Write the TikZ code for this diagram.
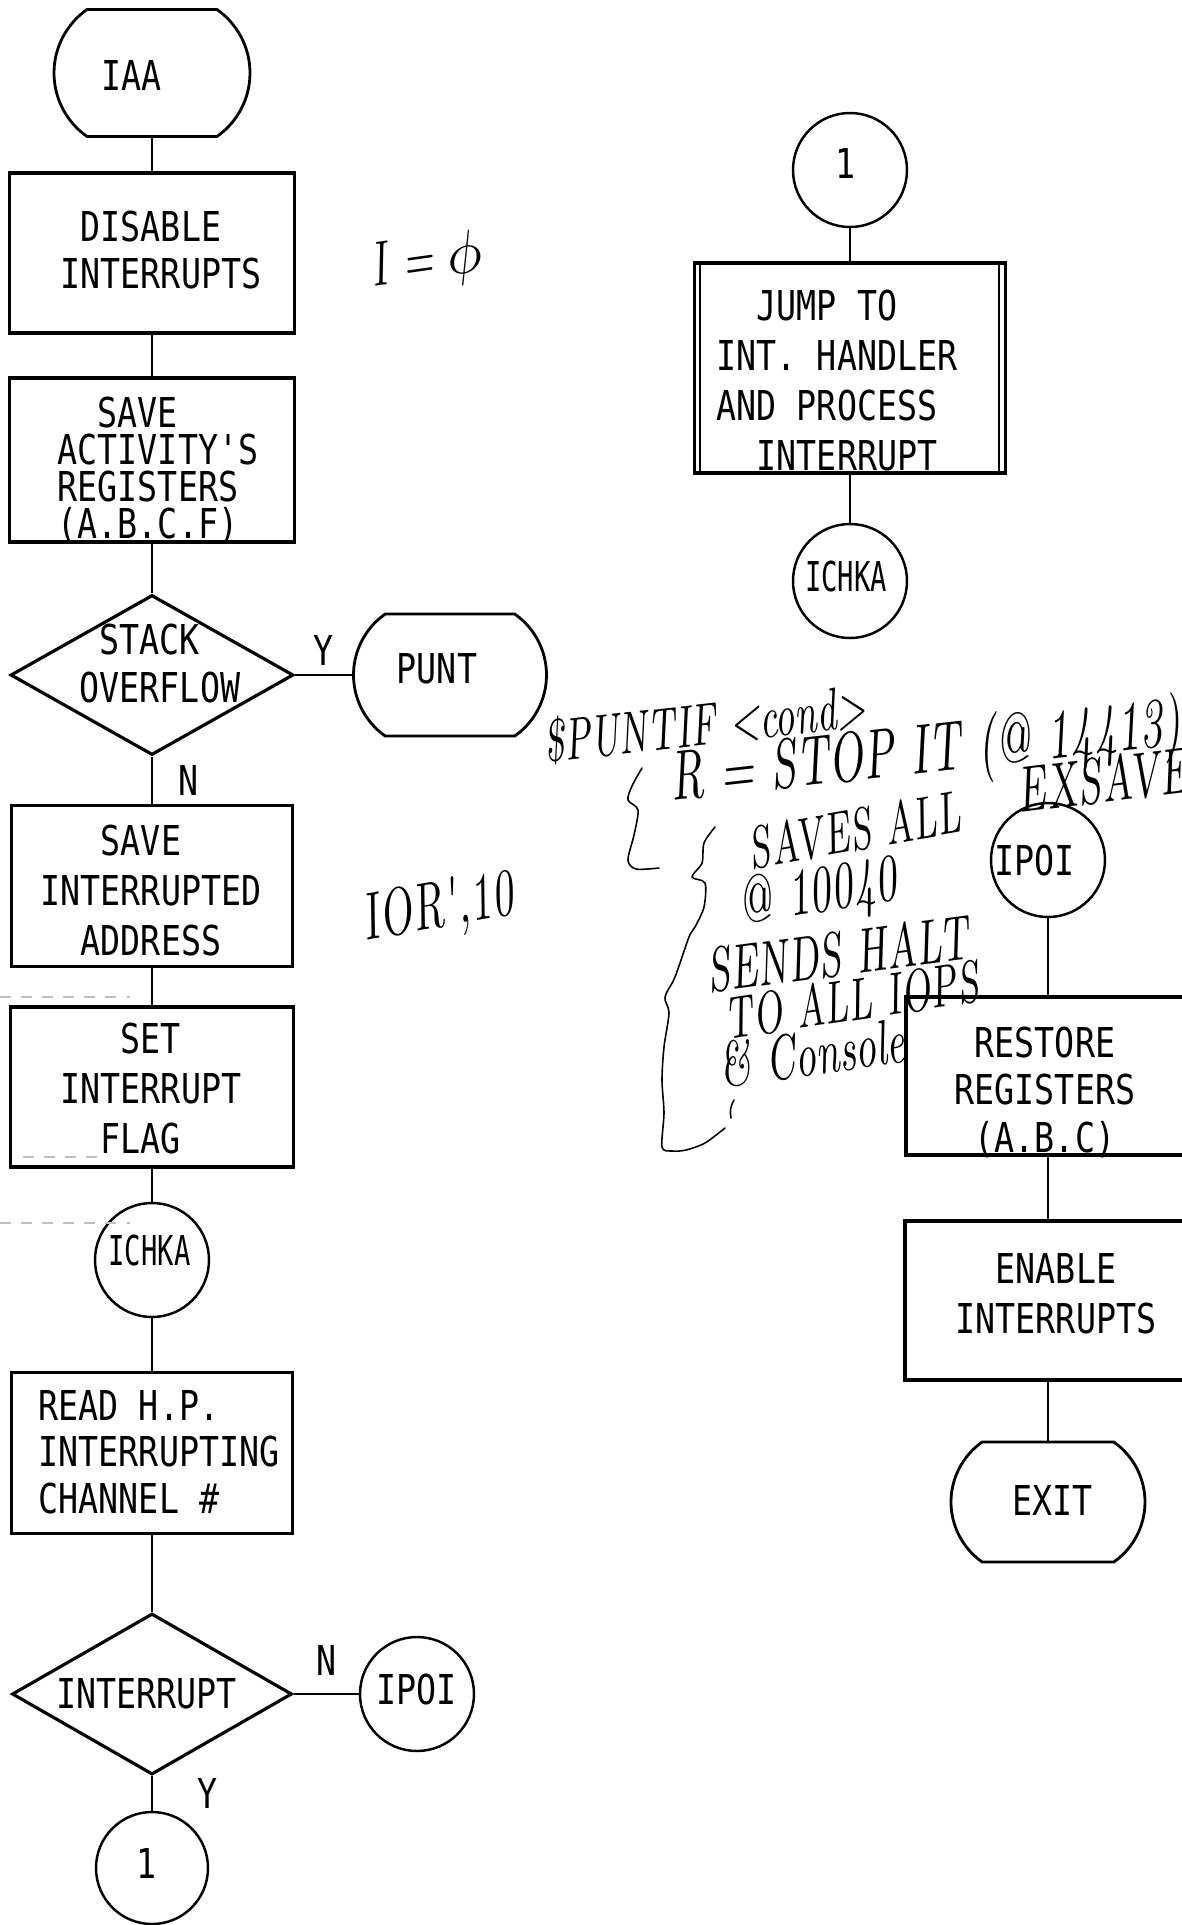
\documentclass[tikz,border=0pt]{standalone}
\usepackage{fontspec}
\usetikzlibrary{shapes.geometric}
\usetikzlibrary{shapes.misc}
\usetikzlibrary{positioning}
\newfontfamily\typer{DejaVu Sans Mono}[FakeStretch=0.81]
\newfontfamily\typerthin{DejaVu Sans Mono}[FakeStretch=0.66]
\newfontfamily\hand{lmroman10-italic.otf}[FakeStretch=0.65]

\newcommand{\typeline}[5][14.2] % line spacing in pt, name, x in mm, y in mm (last base line), text
{
	\node[typed, font=\typer\fontsize{11.7}{#1}\selectfont] (#2) at (#3,#4) {#5};
}
\newcommand{\typemid}[4] % name, x in mm (centre), y in mm (base line), text
{
	\node[typed, anchor=base, font=\typer\fontsize{11.7}{14}\selectfont] (#1) at (#2,#3) {#4};
}
\newcommand{\scrawl}[6] % name, x in mm, y in mm, size in pt, angle, text
{
	\node[inner sep=0pt, rotate=#5, font=\hand\fontsize{#4}{#4}\selectfont] (#1) at (#2,#3) {#6};
}

\begin{document}
\begin{tikzpicture}[x=1mm, y=-1mm,
	proc/.style={draw, rectangle, line width=0.9pt, inner sep=0pt},
	decision/.style={draw, diamond, line width=0.9pt, inner sep=0pt},
	terminal/.style={draw, rounded rectangle, rounded rectangle arc length=110, line width=0.8pt, inner sep=0pt},
	connector/.style={draw, circle, line width=0.7pt, inner sep=0pt, minimum size=11.4mm},
	flow/.style={line width=0.6pt},
	typed/.style={inner sep=0pt, anchor=base west, align=left},
	answer/.style={inner sep=0pt, font=\typer\fontsize{11.7}{14}\selectfont},
	scribble/.style={line width=0.45pt, line cap=round, line join=round},
	smudge/.style={gray!50, dashed, line width=0.3pt}]
	% sheet 118.2mm x 192.5mm, y runs down the sheet
	\useasboundingbox (0,0) rectangle (118.2,192.5);

	% main column
	\node[terminal, minimum width=19.6mm, minimum height=12.7mm] (iaa) at (15.2,7.3) {};
	\node[proc, minimum width=28.5mm, minimum height=16mm] (disable) at (15.2,25.3) {};
	\node[proc, minimum width=28.5mm, minimum height=16.4mm] (saveregs) at (15.2,46.0) {};
	\node[decision, minimum width=28.3mm, minimum height=16mm] (stack) at (15.2,67.5) {};
	\node[terminal, minimum width=19.3mm, minimum height=12.2mm] (punt) at (45.0,67.5) {};
	\node[proc, minimum width=28.1mm, minimum height=16.1mm] (saveaddr) at (15.2,88.6) {};
	\node[proc, minimum width=28.3mm, minimum height=16mm] (setflag) at (15.2,108.7) {};
	\node[connector] (ichkaA) at (15.2,126.0) {};
	\node[proc, minimum width=28.1mm, minimum height=16.1mm] (readhp) at (15.2,145.3) {};
	\node[decision, minimum width=28mm, minimum height=16.1mm] (intr) at (15.2,169.4) {};
	\node[connector] (ipoiA) at (41.7,169.4) {};
	\node[connector, minimum size=11.2mm] (oneA) at (15.2,186.8) {};

	% handler column
	\node[connector] (oneB) at (85.0,17.0) {};
	\node[proc, minimum width=31.1mm, minimum height=21mm] (jump) at (85.0,36.8) {};
	\draw[line width=0.6pt] ([xshift=0.75mm]jump.north west) -- ([xshift=0.75mm]jump.south west);
	\draw[line width=0.6pt] ([xshift=-0.8mm]jump.north east) -- ([xshift=-0.8mm]jump.south east);
	\node[connector] (ichkaB) at (85.0,58.1) {};

	% exit column
	\node[connector] (ipoiB) at (104.8,86.0) {};
	\node[proc, minimum width=28.4mm, minimum height=15.8mm] (restore) at (104.8,107.6) {};
	\node[proc, minimum width=28.6mm, minimum height=15.9mm] (enable) at (104.8,130.05) {};
	\node[terminal, minimum width=19.4mm, minimum height=12mm] (exit) at (104.8,150.2) {};

	% typed text
	\typemid{iaa-t}{13.15}{9.0}{IAA}
	\typeline[13.1]{disable-t}{6.0}{28.8}{~DISABLE\\INTERRUPTS}
	\typeline[10.5]{saveregs-t}{5.7}{53.8}{~~SAVE\\ACTIVITY'S\\REGISTERS\\(A.B.C.F)}
	\typeline[13.4]{stack-t}{7.9}{70.2}{~STACK\\OVERFLOW}
	\typemid{punt-t}{43.7}{68.3}{PUNT}
	\typeline{saveaddr-t}{4.0}{95.5}{~~~SAVE\\INTERRUPTED\\~~ADDRESS}
	\typeline{setflag-t}{6.0}{115.3}{~~~SET\\INTERRUPT\\~~FLAG}
	\node[typed, anchor=base, font=\typerthin\fontsize{11.7}{14}\selectfont] (ichkaA-t) at (14.95,126.5) {ICHKA};
	\typeline[13.2]{readhp-t}{3.8}{151.3}{READ H.P.\\INTERRUPTING\\CHANNEL \#}
	\typemid{intr-t}{14.65}{170.8}{INTERRUPT}
	\typemid{ipoiA-t}{41.65}{170.4}{IPOI}
	\typemid{oneA-t}{14.65}{187.8}{1}
	\typemid{oneB-t}{84.55}{17.8}{1}
	\typeline{jump-t}{71.6}{47.0}{~~JUMP TO\\INT. HANDLER\\AND PROCESS\\~~INTERRUPT}
	\node[typed, anchor=base, font=\typerthin\fontsize{11.7}{14}\selectfont] (ichkaB-t) at (84.6,59.1) {ICHKA};
	\typemid{ipoiB-t}{103.45}{87.5}{IPOI}
	\typeline[13.5]{restore-t}{95.4}{115.2}{~RESTORE\\REGISTERS\\~(A.B.C)}
	\typeline{enable-t}{95.5}{133.3}{~~ENABLE\\INTERRUPTS}
	\typemid{exit-t}{105.25}{151.5}{EXIT}

	% flow lines
	\draw[flow] (iaa) -- (disable);
	\draw[flow] (disable) -- (saveregs);
	\draw[flow] (saveregs) -- (stack);
	\draw[flow] (stack) -- node[answer, above=0.8mm] (stackyes) {Y} (punt);
	\draw[flow] (stack) -- node[answer, right=2.5mm] (stackno) {N} (saveaddr);
	\draw[flow] (saveaddr) -- (setflag);
	\draw[flow] (setflag) -- (ichkaA);
	\draw[flow] (ichkaA) -- (readhp);
	\draw[flow] (readhp) -- (intr);
	\draw[flow] (intr) -- node[answer, above=1.7mm] (intrno) {N} (ipoiA);
	\draw[flow] (intr) -- node[answer, right=4.4mm] (intryes) {Y} (oneA);
	\draw[flow] (oneB) -- (jump);
	\draw[flow] (jump) -- (ichkaB);
	\draw[flow] (ipoiB) -- (restore);
	\draw[flow] (restore) -- (enable);
	\draw[flow] (enable) -- (exit);

	% pencil notes
	\scrawl{izero}{42.7}{26.3}{18}{8}{I = $\phi$}
	\scrawl{ior}{43.8}{91.0}{19}{10}{IOR',10}
	\scrawl{puntif}{70.5}{72.4}{17}{6.5}{\$PUNTIF <cond>}
	\scrawl{stopit}{92.6}{75.5}{20}{6.3}{R = STOP IT (@ 14413)}
	\scrawl{exsave}{110.2}{78.0}{18.5}{7}{EXSAVE}
	\scrawl{saves}{85.4}{83.0}{17}{10}{SAVES ALL}
	\scrawl{at10040}{81.8}{89.5}{19}{9}{@ 10040}
	\scrawl{halt}{83.7}{95.4}{18}{7.5}{SENDS HALT}
	\scrawl{iops}{85.1}{100.0}{17}{8.5}{TO ALL IOPS}
	\scrawl{console}{81.2}{105.3}{18}{8}{\& Console}
	\draw[scribble] plot[smooth] coordinates {(64.2,76.8) (63.2,78.6) (62.8,80.0) (63.8,81.0) (63.4,83.5) (62.8,86.0) (63.6,86.9) (65.9,86.8)};
	\draw[scribble] plot[smooth] coordinates {(71.5,82.7) (70.4,84.3) (70.2,86.3) (69.2,87.7) (70.5,88.3) (70.4,90.7) (69.5,92.7) (68.9,93.7) (67.5,97.7) (66.5,99.7) (66.9,101.3) (66.4,104.7) (66.2,108.0) (66.4,111.3) (66.2,114.7) (67.2,115.1) (68.6,115.0) (70.5,114.3) (72.5,112.8)};
	\draw[scribble] (73.4,110.0) to[bend right=20] (73.1,111.8);

	% faint marks on the sheet
	\draw[smudge] (0,99.7) -- (13,99.7);
	\draw[smudge] (2.3,115.7) -- (10,115.7);
	\draw[smudge] (0,122.3) -- (13,122.3);
\end{tikzpicture}
\end{document}
